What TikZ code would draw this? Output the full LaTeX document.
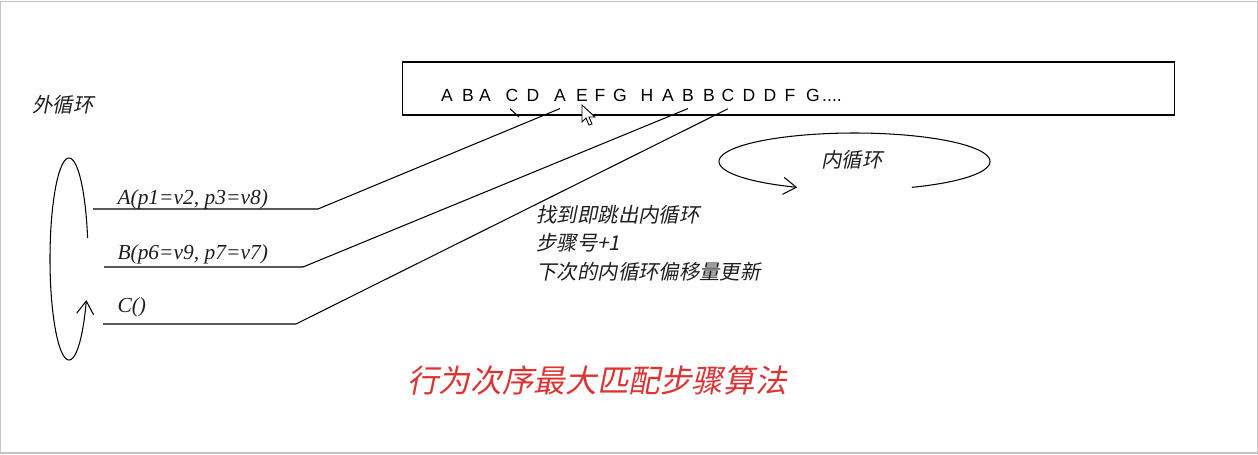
\documentclass[tikz,border=0pt]{standalone}
\usepackage{fontspec}
\setmainfont{Liberation Serif}
\setsansfont{Liberation Sans}
\newfontfamily\cjk[FakeSlant=0.2]{Noto Sans CJK SC}
\usetikzlibrary{positioning, arrows.meta, calc}
\definecolor{algred}{HTML}{DD3333}
\definecolor{framegray}{HTML}{C4C4C4}
\definecolor{inkgray}{HTML}{1E1E1E}

\begin{document}
\begin{tikzpicture}[x=0.02cm, y=-0.02cm, line width=0.6pt,
    seqch/.style={font=\sffamily\fontsize{10}{12}\selectfont, inner xsep=0pt, inner ysep=4pt, anchor=base},
    steplbl/.style={font=\itshape\fontsize{12.2}{14}\selectfont, text=inkgray, inner sep=0pt, anchor=base west},
    cjklbl/.style={font=\cjk\fontsize{11.6}{14}\selectfont, text=inkgray, inner sep=0pt},
    looparrow/.style={-{Straight Barb[length=2.6mm, width=3.4mm]}}]
  \useasboundingbox (0,0) rectangle (1258,454);
  \draw[framegray, line width=0.8pt] (0.5,1.5) rectangle (1257.5,453);

  % sequence box
  \node[draw, minimum width=15.46cm, minimum height=1.06cm, inner sep=0pt] (seqbox) at (788.5,88.5) {};
  \foreach \ch/\x [count=\i] in {A/447,B/468,A/485,C/512,D/533,A/560,E/582,F/600,G/620,H/647,A/668,B/688,B/709,C/728,D/749,D/770,F/790,G/813}
    \node[seqch] (s\i) at (\x,101) {\ch};
  \node[seqch] (dots) at (832,101) {....};

  % mouse pointer
  \draw[fill=white, line width=0.5pt] (582,105) -- ++(0,17) -- ++(4,-4) -- ++(3,7) -- ++(3,-1) -- ++(-3,-7) -- ++(6,0) -- cycle;

  % outer loop
  \node[cjklbl] (outer) at (63,105) {外循环};
  \draw[looparrow] plot[domain=12:336, samples=90, smooth] ({69+19*cos(\x)}, {259-101*sin(\x)});

  \node[steplbl] (stepa) at (117,204) {A(p1=v2, p3=v8)};
  \node[steplbl] (stepb) at (117,259) {B(p6=v9, p7=v7)};
  \node[steplbl] (stepc) at (117,312) {C()};

  \coordinate (ua) at (93,209);  \coordinate (ka) at (318,209);
  \coordinate (ub) at (104,267); \coordinate (kb) at (303,267);
  \coordinate (uc) at (103,324); \coordinate (kc) at (296,324);
  \draw (ua) -- (ka) -- (s6.south);
  \draw (ub) -- (kb) -- (s12.south);
  \draw (uc) -- (kc) -- (s14.south);
  \coordinate (tick) at (519,117);
  \draw ([xshift=-0.04cm]s4.south) -- (tick);

  % inner loop
  \node[cjklbl] (inner) at (852,160) {内循环};
  \draw[looparrow] plot[domain=-65:245, samples=120, smooth] ({854.5+135.5*cos(\x)}, {161.5-28.5*sin(\x)});

  \node[cjklbl, anchor=west] (note1) at (536,215) {找到即跳出内循环};
  \node[cjklbl, anchor=west] (note2) at (536,243) {步骤号+1};
  \node[cjklbl, anchor=west] (note3) at (536,272) {下次的内循环偏移量更新};

  \node[font=\cjk\fontsize{18}{20}\selectfont, text=algred, inner sep=0pt] (title) at (597,380) {行为次序最大匹配步骤算法};
\end{tikzpicture}
\end{document}
